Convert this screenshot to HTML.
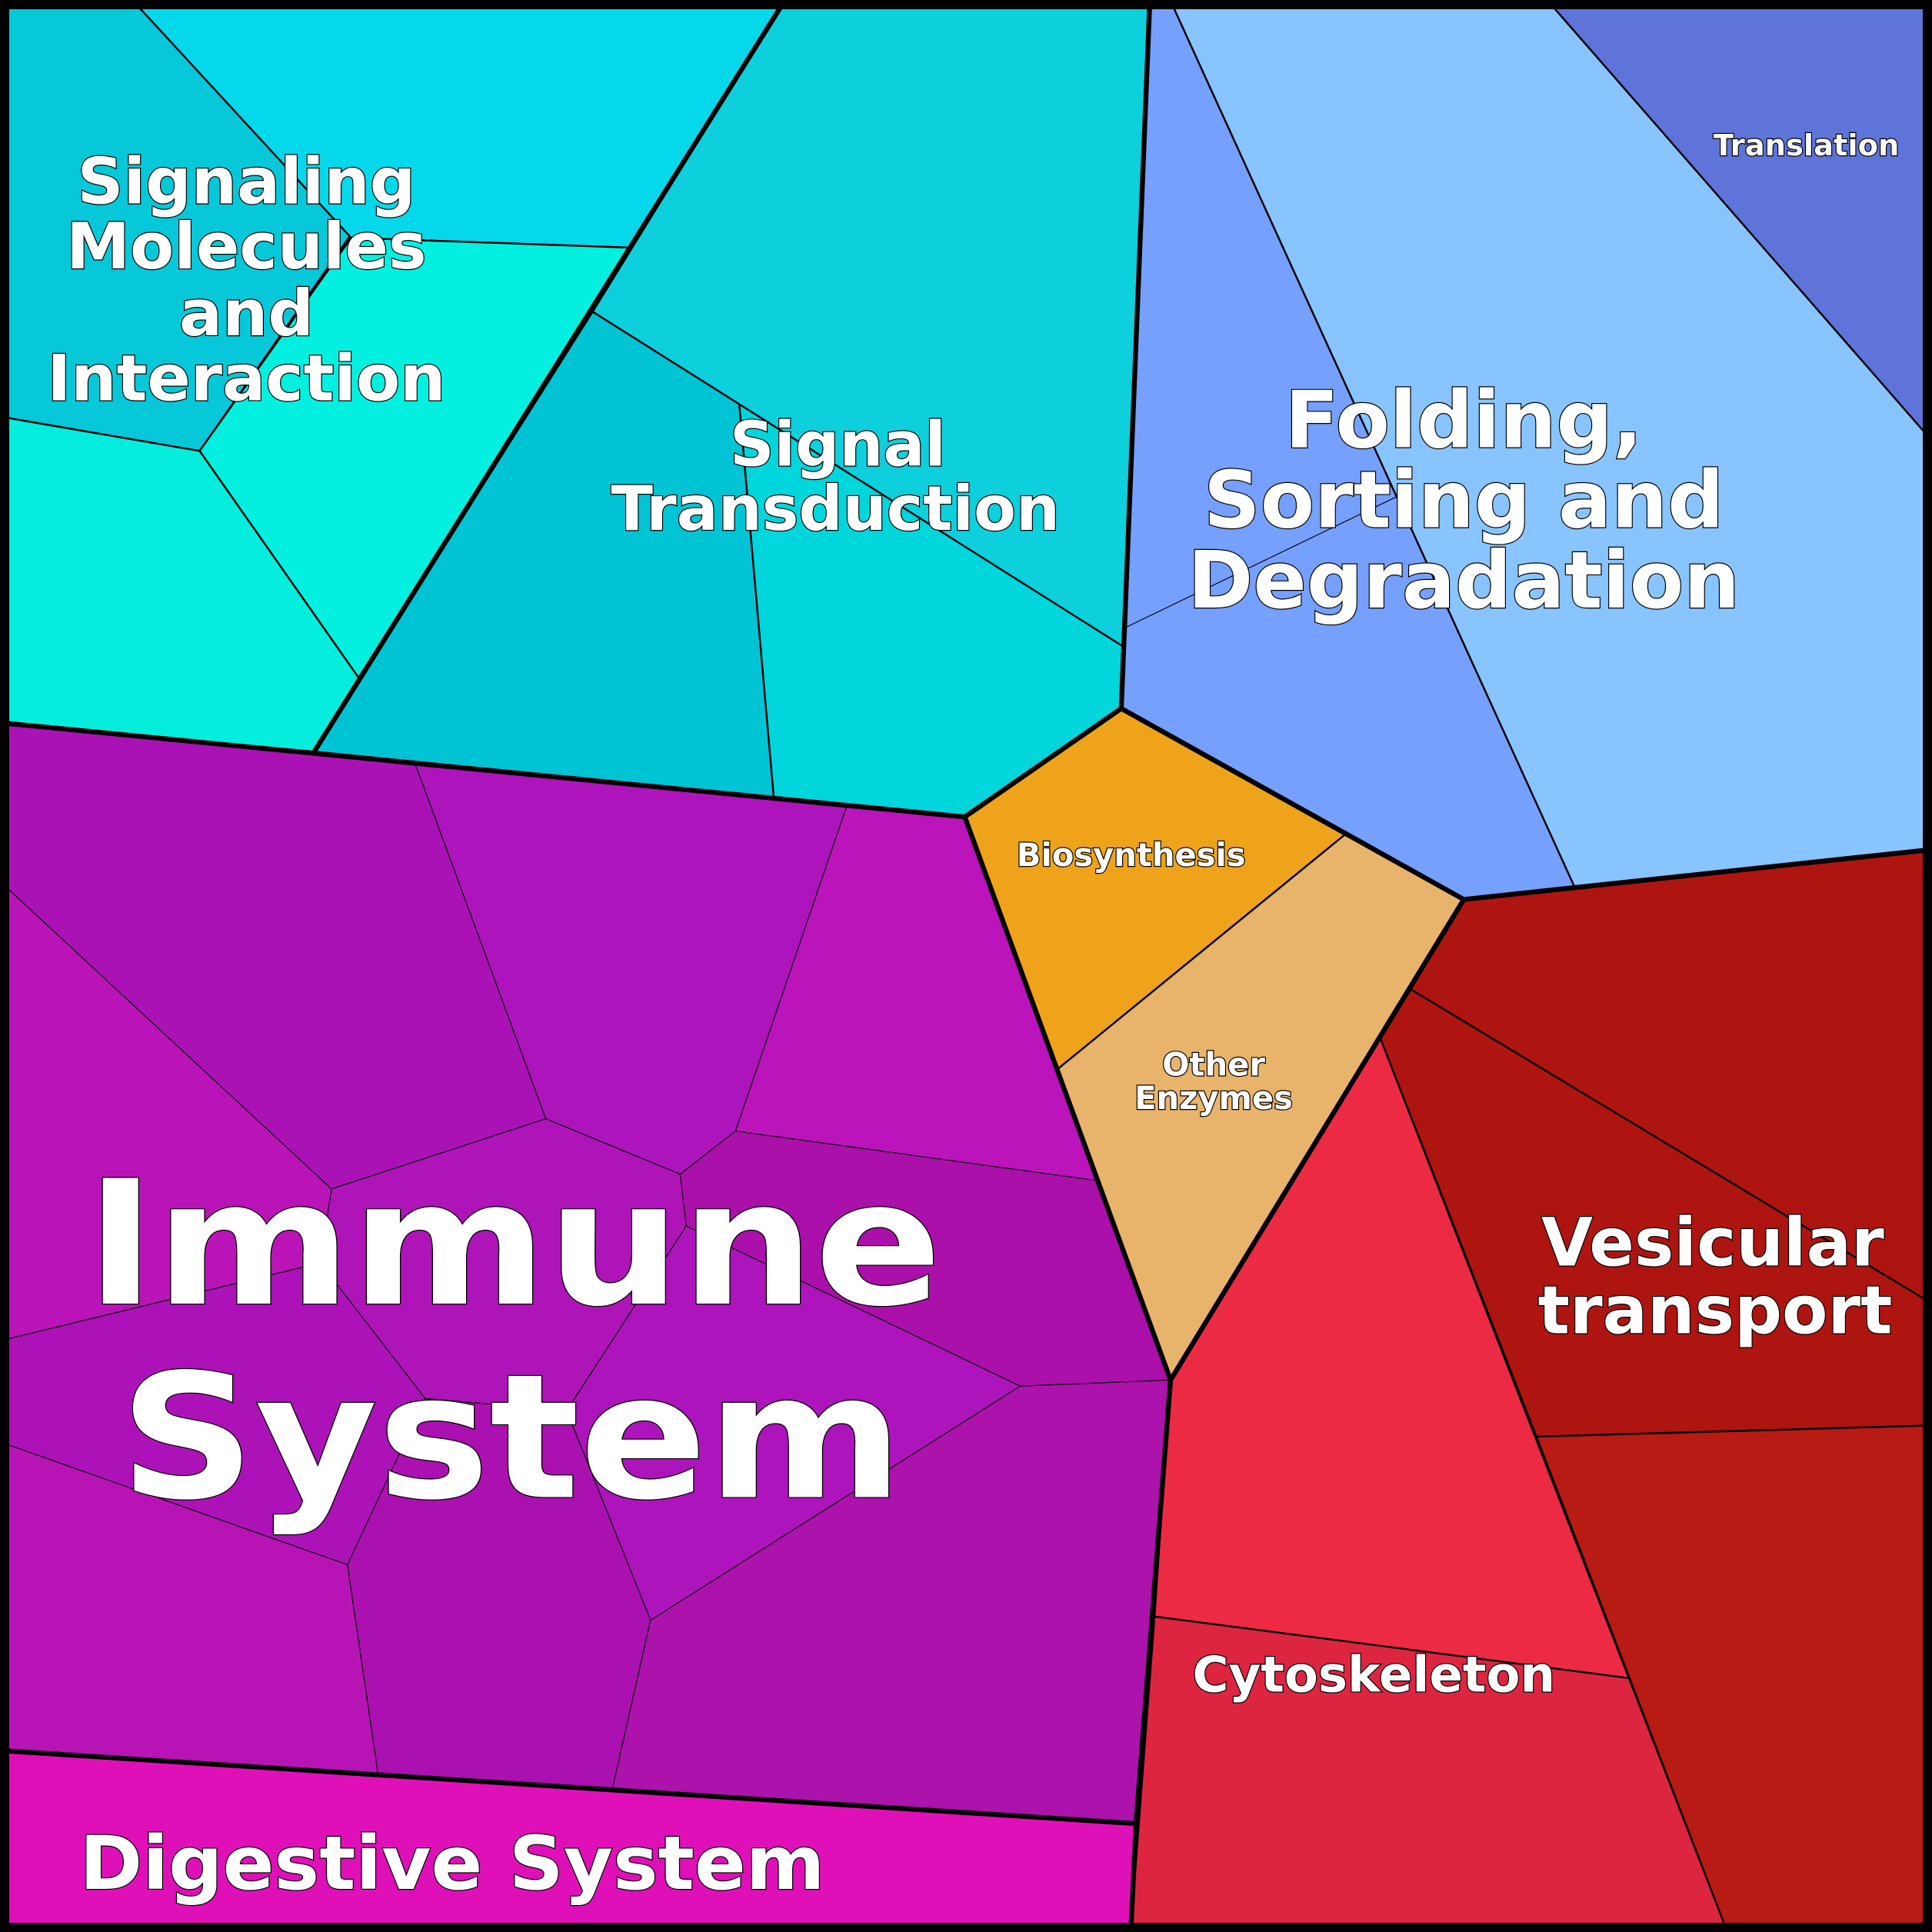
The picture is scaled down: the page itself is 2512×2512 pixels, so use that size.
<!DOCTYPE html>
<html><head><meta charset="utf-8"><style>
html,body{margin:0;padding:0;background:#000}
svg{display:block}
text{font-family:"DejaVu Sans","Liberation Sans",sans-serif;font-weight:bold;fill:#fff;stroke:#000;stroke-width:1.5;paint-order:stroke;text-anchor:middle}
</style></head><body>
<svg width="2512" height="2512" viewBox="0 0 1568 1568" xmlns="http://www.w3.org/2000/svg">
<rect x="0" y="0" width="1568" height="1568" fill="#000"/>
<g stroke="#000" stroke-width="1.5" stroke-linejoin="round">
<polygon fill="#06c8d8" points="5,5 112,5 285,190 162,366 5,339"/>
<polygon fill="#05d8ea" points="112,5 634,5 512,201 285,193"/>
<polygon fill="#03f0e0" points="285,193 512,201 291,550 162,366"/>
<polygon fill="#05eedd" points="5,339 162,366 291,550 255,610 5,587"/>
<polygon fill="#0ecfdc" points="634,5 933,5 912,525 600,330 481,253"/>
<polygon fill="#00c4d4" points="481,253 600,328 628,647 255,610"/>
<polygon fill="#00d6dc" points="600,328 912,525 910,575 783,663 628,647"/>
<polygon fill="#76a0fd" points="933,5 952,5 1278,720 1188,730 910,575"/>
<polygon fill="#88c4ff" points="952,5 1260,5 1563,352 1563,690 1278,720"/>
<polygon fill="#5f74d8" points="1260,5 1563,5 1563,352"/>
<polygon fill="#eea31a" points="783,663 910,575 1092,677 858,868"/>
<polygon fill="#e8b46c" points="1092,677 1188,730 950,1120 858,868"/>
<polygon fill="#ae1510" points="1188,730 1563,690 1563,1055 1145,803"/>
<polygon fill="#ae1510" points="1145,803 1563,1055 1563,1157 1247,1166 1120,842"/>
<polygon fill="#b81a14" points="1247,1166 1563,1157 1563,1563 1400,1563"/>
<polygon fill="#ec2a44" points="1120,842 1322,1362 937,1312 950,1120"/>
<polygon fill="#dd2540" points="937,1312 1322,1362 1400,1563 918,1563"/>
<g stroke-width="0.7">
<polygon fill="#ab12b5" points="5,587 337,620 443,908 269,965 5,720"/>
<polygon fill="#ad14bb" points="337,620 687,655 597,918 552,953 443,908"/>
<polygon fill="#bb14bb" points="687,655 783,663 889,958 597,918"/>
<polygon fill="#ba14b8" points="5,720 269,965 260,1025 5,1087"/>
<polygon fill="#ae14b8" points="269,965 443,908 552,953 557,995 460,1145 345,1135 260,1025"/>
<polygon fill="#ab10ab" points="552,953 597,918 889,958 950,1120 828,1125 557,995"/>
<polygon fill="#ad14bb" points="557,995 828,1125 528,1315 460,1145"/>
<polygon fill="#ad12b8" points="5,1087 260,1025 345,1135 282,1270 5,1172"/>
<polygon fill="#b814b5" points="5,1172 282,1270 307,1441 5,1421"/>
<polygon fill="#ab10b0" points="282,1270 345,1135 460,1145 528,1315 497,1452 307,1441"/>
<polygon fill="#ad12ad" points="528,1315 828,1125 950,1120 922,1480 497,1452"/>
</g>
<polygon fill="#e010b8" points="5,1421 922,1480 918,1563 5,1563"/>
</g>
<line x1="912" y1="510" x2="1140" y2="400" stroke="#000" stroke-width="0.7"/>
<g fill="none" stroke="#000" stroke-width="4" stroke-linejoin="round">
<polyline points="5,587 783,663 910,575 933,5"/>
<polyline points="634,5 255,610"/>
<polyline points="910,575 1188,730 1563,690"/>
<polyline points="783,663 950,1120 1188,730"/>
<polyline points="950,1120 922,1480 5,1421"/>
<polyline points="922,1480 918,1563"/>
</g>
<rect x="4" y="4" width="1560" height="1560" fill="none" stroke="#000" stroke-width="7"/>
<text font-size="52" x="200" y="165">Signaling</text>
<text font-size="52" x="200" y="218">Molecules</text>
<text font-size="52" x="200" y="272">and</text>
<text font-size="52" x="200" y="325">Interaction</text>
<text font-size="50" x="680" y="378">Signal</text>
<text font-size="50" x="678" y="430">Transduction</text>
<text font-size="64" x="1188" y="363">Folding,</text>
<text font-size="64" x="1188" y="428">Sorting and</text>
<text font-size="64" x="1188" y="493">Degradation</text>
<text font-size="24" x="1466" y="126">Translation</text>
<text font-size="26" x="918" y="703">Biosynthesis</text>
<text font-size="26" x="985" y="873">Other</text>
<text font-size="26" x="985" y="900">Enzymes</text>
<text font-size="54" x="1390" y="1027">Vesicular</text>
<text font-size="54" x="1392" y="1082">transport</text>
<text font-size="40" x="1115" y="1373">Cytoskeleton</text>
<text font-size="140" x="417" y="1058" stroke-width="2" textLength="695" lengthAdjust="spacingAndGlyphs">Immune</text>
<text font-size="140" x="415" y="1215" stroke-width="2" textLength="636" lengthAdjust="spacingAndGlyphs">System</text>
<text font-size="60" x="367" y="1533" textLength="605" lengthAdjust="spacingAndGlyphs">Digestive System</text>
</svg>
</body></html>
